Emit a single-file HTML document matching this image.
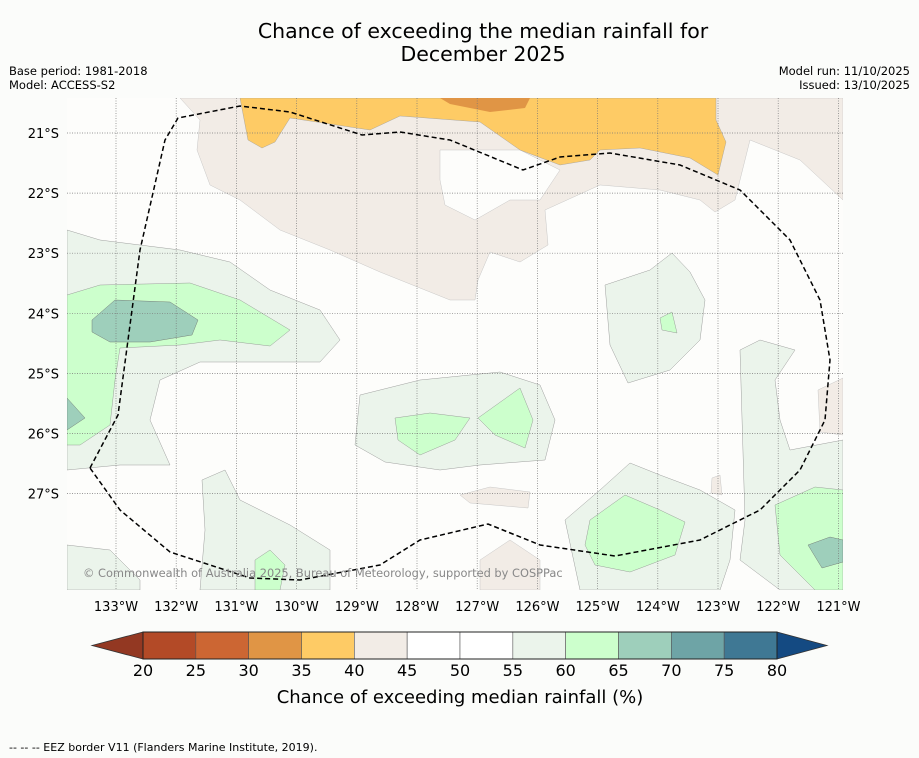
<!DOCTYPE html>
<html><head><meta charset="utf-8"><style>
body{margin:0;background:#fbfcfa;font-family:"DejaVu Sans","Liberation Sans",sans-serif}
svg{display:block}
</style></head><body>
<svg id="c" width="919" height="758" viewBox="0 0 919 758" xmlns="http://www.w3.org/2000/svg" font-family="DejaVu Sans, Liberation Sans, sans-serif">
<rect width="919" height="758" fill="#fbfcfa"/>
<text x="483" y="38" font-size="20.5" text-anchor="middle" fill="#000">Chance of exceeding the median rainfall for</text>
<text x="483" y="61" font-size="20.5" text-anchor="middle" fill="#000">December 2025</text>
<text x="9" y="75" font-size="11.5">Base period: 1981-2018</text>
<text x="9" y="89" font-size="11.5">Model: ACCESS-S2</text>
<text x="910" y="75" font-size="11.5" text-anchor="end">Model run: 11/10/2025</text>
<text x="910" y="89" font-size="11.5" text-anchor="end">Issued: 13/10/2025</text>
<defs><clipPath id="mc"><rect x="67" y="98" width="776" height="492"/></clipPath></defs>
<g clip-path="url(#mc)">
<rect x="67" y="98" width="776" height="492" fill="#fdfdfb"/>
<path fill="#f2ece6" stroke="#bbb" stroke-width="0.4" d="M180,98 L843,98 L843,200 L800,160 L750,140 L735,200 L715,212 L700,200 L660,190 L600,185 L545,210 L548,245 L520,262 L490,252 L478,280 L475,300 L450,300 L380,272 L330,250 L280,230 L240,200 L210,185 L197,150 L200,120 Z"/>
<path fill="#fdfdfb" stroke="#bbb" stroke-width="0.4" d="M440,150 L520,150 L560,170 L540,200 L510,200 L475,220 L445,205 L440,180 Z"/>
<path fill="#f2ece6" stroke="#bbb" stroke-width="0.4" d="M818,390 L843,378 L843,435 L820,432 Z"/>
<path fill="#f2ece6" stroke="#bbb" stroke-width="0.4" d="M460,495 L490,487 L530,492 L528,508 L470,503 Z"/>
<path fill="#f2ece6" stroke="#bbb" stroke-width="0.4" d="M712,478 L720,475 L722,495 L711,493 Z"/>
<path fill="#f2ece6" stroke="#bbb" stroke-width="0.4" d="M480,560 L510,540 L540,560 L540,590 L480,590 Z"/>
<path fill="#fecb65" stroke="#999" stroke-width="0.4" d="M240,98 L716,98 L716,120 L726,142 L718,175 L690,158 L640,148 L600,150 L590,160 L560,165 L520,150 L480,122 L400,116 L370,130 L330,124 L290,118 L275,142 L262,148 L248,140 Z"/>
<path fill="#e09545" d="M440,98 L530,98 L525,108 L490,112 L450,104 Z"/>
<g fill="#ebf4eb" stroke="#888" stroke-width="0.4">
<path d="M67,230 L100,240 L180,250 L230,262 L270,290 L320,310 L340,340 L320,362 L260,362 L200,362 L160,380 L150,420 L170,465 L120,465 L67,470 Z"/>
<path d="M360,395 L420,380 L500,372 L540,385 L555,420 L545,460 L480,465 L440,470 L385,462 L355,445 Z"/>
<path d="M605,285 L650,270 L672,253 L690,272 L705,300 L700,340 L670,370 L628,383 L610,345 Z"/>
<path d="M740,350 L760,340 L795,350 L775,380 L780,420 L790,450 L843,440 L843,590 L780,590 L740,560 L745,520 Z"/>
<path d="M565,520 L600,490 L630,463 L660,475 L700,490 L735,510 L730,560 L720,590 L580,590 Z"/>
<path d="M67,545 L110,550 L140,580 L140,590 L67,590 Z"/>
<path d="M202,480 L225,470 L240,500 L290,525 L330,550 L330,590 L200,590 L205,530 Z"/>
</g>
<g fill="#ccffcc" stroke="#888" stroke-width="0.4">
<path d="M67,295 L100,285 L190,283 L240,300 L290,330 L270,346 L220,340 L180,345 L120,348 L115,380 L110,425 L80,445 L67,445 Z"/>
<path d="M395,418 L430,413 L470,418 L455,440 L420,455 L398,440 Z"/>
<path d="M478,418 L520,388 L533,420 L525,448 L495,435 Z"/>
<path d="M590,520 L625,495 L660,510 L685,522 L675,555 L630,572 L595,565 L585,545 Z"/>
<path d="M775,505 L815,487 L843,490 L843,590 L815,590 L780,555 Z"/>
<path d="M660,318 L672,312 L677,333 L662,330 Z"/>
<path d="M255,560 L270,550 L285,565 L280,590 L255,590 Z"/>
</g>
<g fill="#9ecfbb" stroke="#666" stroke-width="0.4">
<path d="M92,320 L115,300 L170,302 L198,320 L192,335 L150,342 L110,342 L92,332 Z"/>
<path d="M67,398 L85,418 L67,430 Z"/>
<path d="M808,545 L830,537 L843,540 L843,562 L822,568 Z"/>
</g>
<g id="grid" stroke="#777" stroke-width="0.7" stroke-dasharray="1,1.5"></g>
<path fill="none" stroke="#000" stroke-width="1.5" stroke-dasharray="5,3" d="M90,468 L118,415 L140,250 L165,140 L178,118 L240,106 L290,112 L362,135 L400,132 L450,140 L523,170 L560,157 L610,153 L680,165 L740,190 L790,240 L820,300 L830,360 L825,420 L800,470 L760,510 L700,540 L615,556 L540,545 L488,524 L420,540 L380,565 L300,580 L250,578 L170,552 L120,510 Z"/>
<text x="83" y="577" font-size="11.4" fill="#888">© Commonwealth of Australia 2025, Bureau of Meteorology, supported by COSPPac</text>
</g>
<g id="axes" font-size="13" fill="#000"></g>
<g id="cbar"></g>
<text x="460" y="703" font-size="18" text-anchor="middle">Chance of exceeding median rainfall (%)</text>
<text x="9" y="751" font-size="11">--  --  -- EEZ border V11 (Flanders Marine Institute, 2019).</text>
<script>
const lonTicks=["133°W","132°W","131°W","130°W","129°W","128°W","127°W","126°W","125°W","124°W","123°W","122°W","121°W"];
const latTicks=["21°S","22°S","23°S","24°S","25°S","26°S","27°S"];
const levels=[20,25,30,35,40,45,50,55,60,65,70,75,80];
const levelColors=["#b34a27","#cc6633","#e09545","#fecb65","#f2ece6","#ffffff","#ffffff","#ebf4eb","#ccffcc","#9ecfbb","#6ea4a6","#3f7894"];
const NS="http://www.w3.org/2000/svg";
function mk(t,a,p){const e=document.createElementNS(NS,t);for(const k in a)e.setAttribute(k,a[k]);p.appendChild(e);return e;}
const xLon=i=>116+i*60.2, yLat=i=>133+i*60.1;
const grid=document.getElementById('grid'),axes=document.getElementById('axes');
lonTicks.forEach((t,i)=>{const x=xLon(i);
 const l=mk('line',{x1:x,x2:x,y1:98,y2:590},grid);
 
 
 const tx=mk('text',{x:x,y:611,'text-anchor':'middle'},axes);tx.textContent=t;
 
 });
latTicks.forEach((t,i)=>{const y=yLat(i);
 const l=mk('line',{x1:67,x2:843,y1:y,y2:y},grid);
 
 
 const tx=mk('text',{x:59,y:y+5,'text-anchor':'end'},axes);tx.textContent=t;
 
 });
const cb=document.getElementById('cbar');
const x0=143,x1=777,y0=632,y1=659,vx=v=>x0+(v-levels[0])/(levels[levels.length-1]-levels[0])*(x1-x0);
const lt=mk('polygon',{points:`${x0},${y0} ${x0},${y1} 92,${(y0+y1)/2}`,fill:'#933822',stroke:'#333','stroke-width':0.8},cb);


const rt=mk('polygon',{points:`${x1},${y0} ${x1},${y1} 827,${(y0+y1)/2}`,fill:'#144a82',stroke:'#333','stroke-width':0.8},cb);


levelColors.forEach((c,i)=>{const a=vx(levels[i]),b=vx(levels[i+1]);
 const r=mk('rect',{x:a,y:y0,width:b-a,height:y1-y0,fill:c,stroke:'#555','stroke-width':0.6},cb);
 
 });
mk('rect',{x:x0,y:y0,width:x1-x0,height:y1-y0,fill:'none',stroke:'#222','stroke-width':1},cb);
levels.forEach(v=>{const t=mk('text',{x:vx(v),y:676,'font-size':16,'text-anchor':'middle'},cb);t.textContent=v;
 
 });
</script>
</svg>
</body></html>
